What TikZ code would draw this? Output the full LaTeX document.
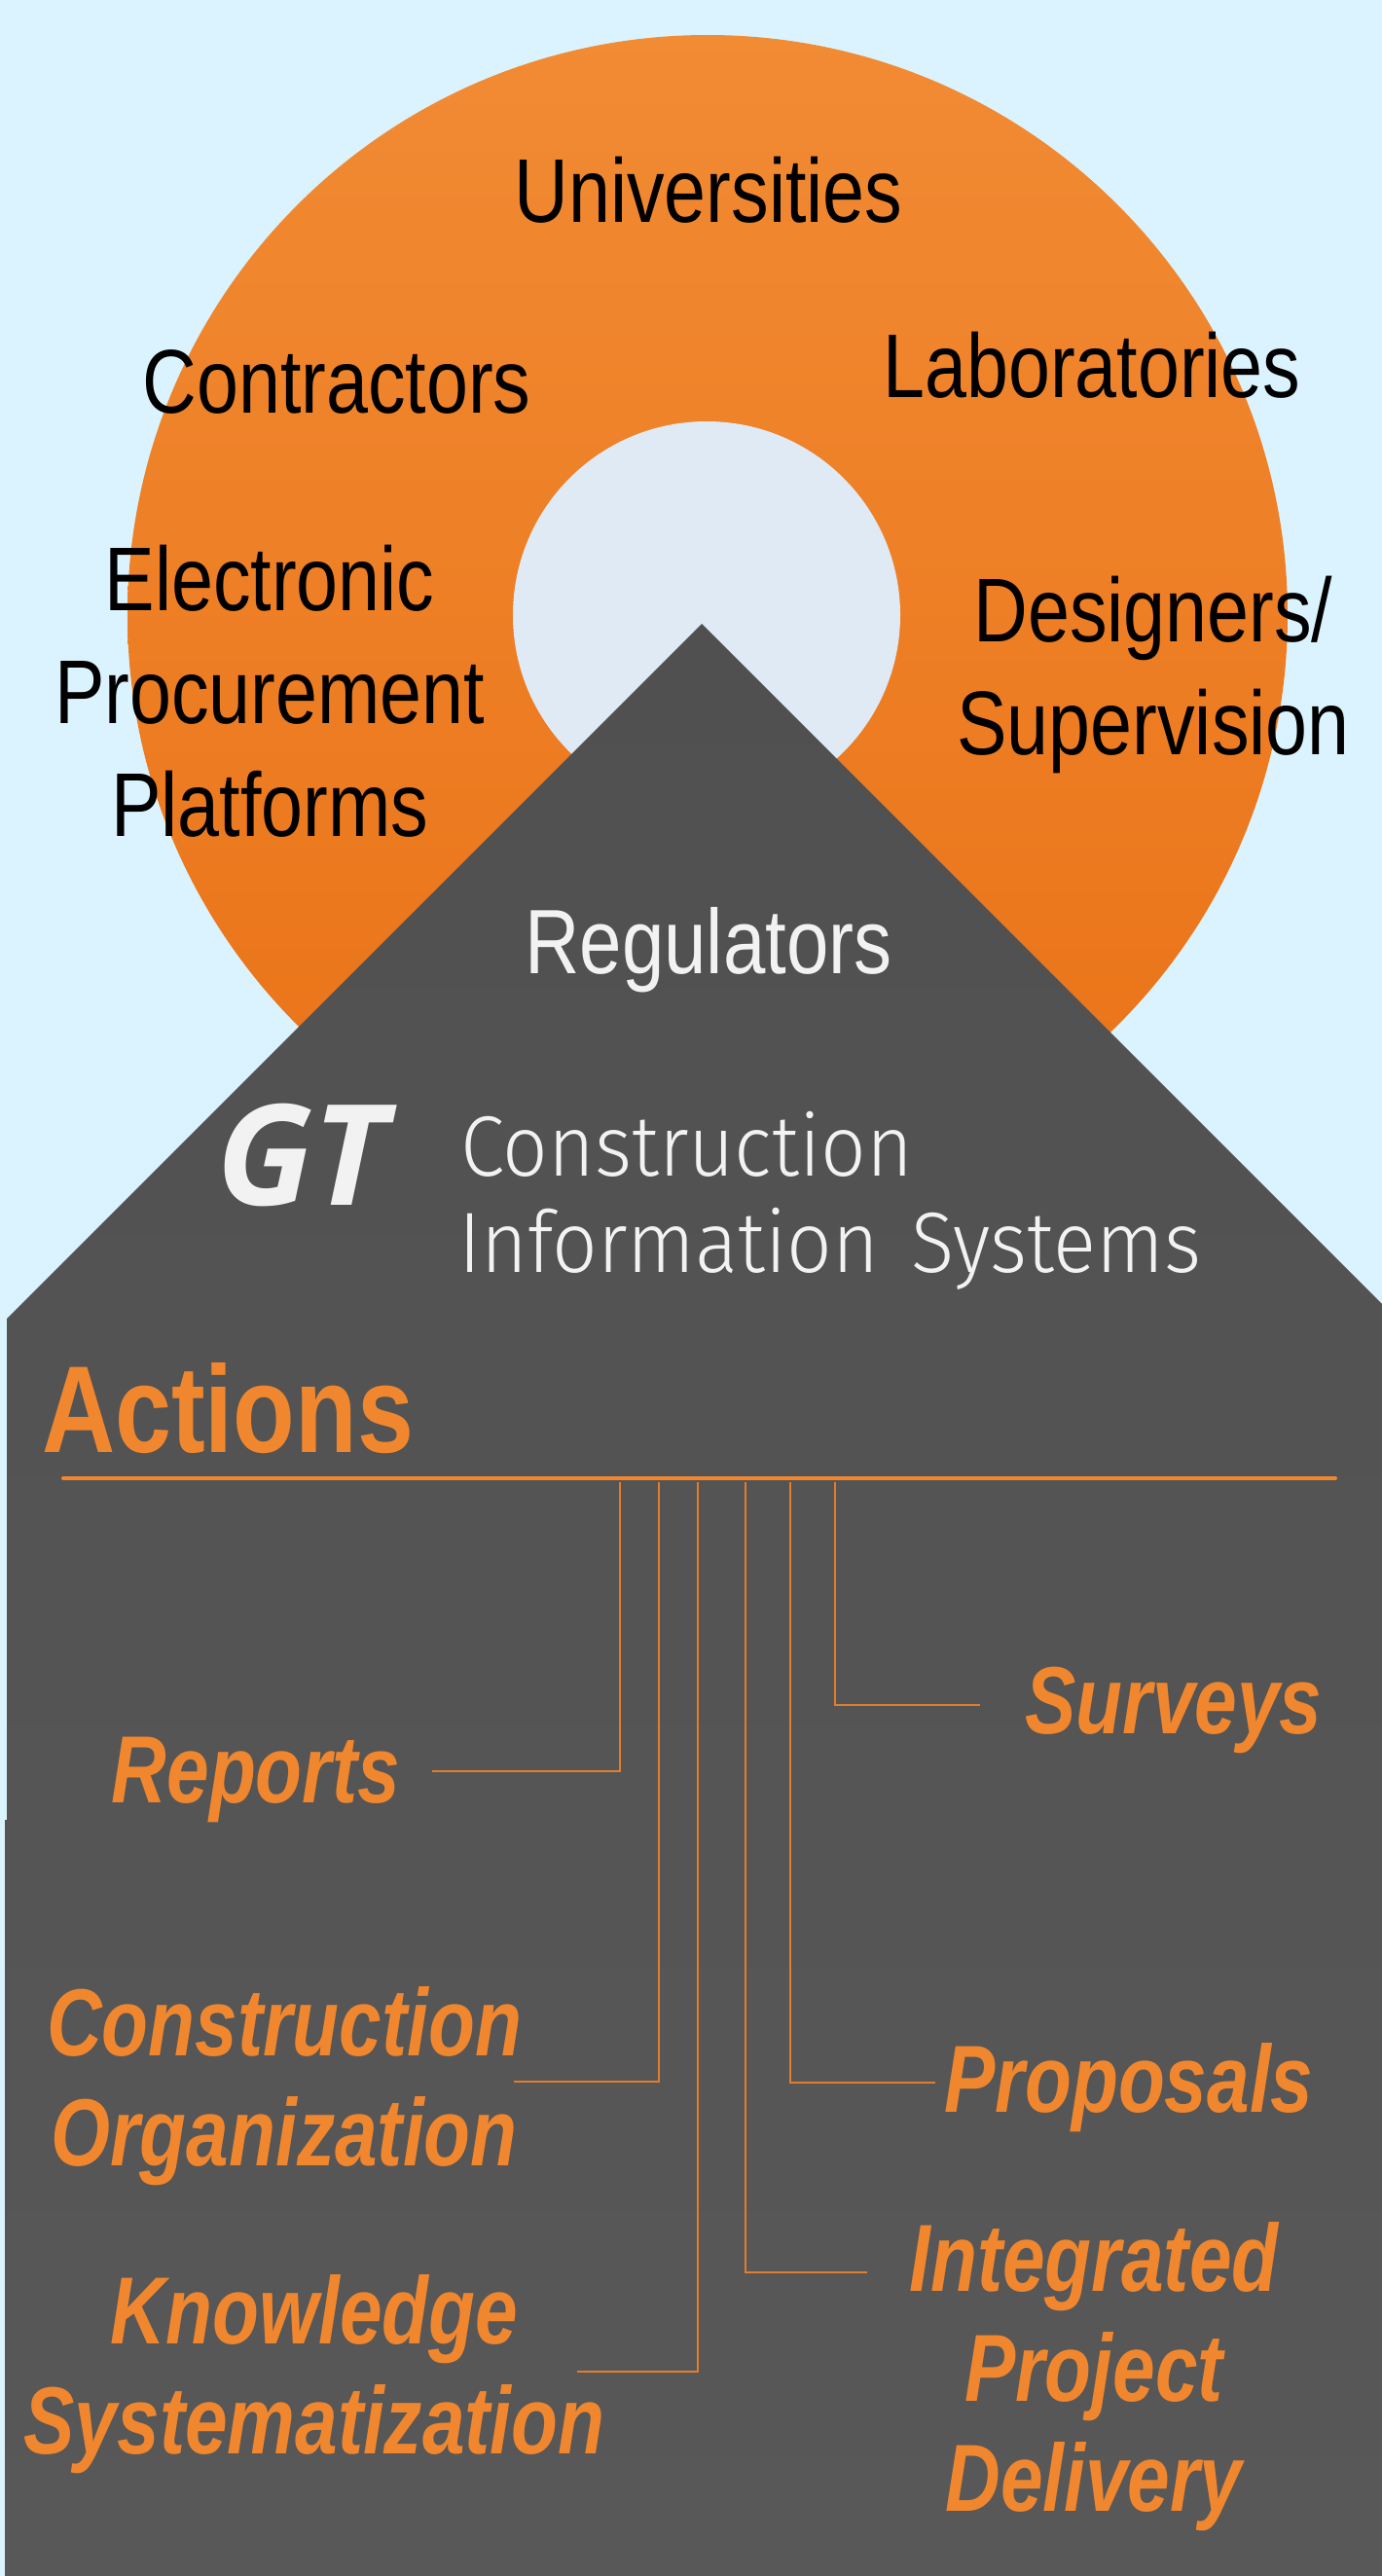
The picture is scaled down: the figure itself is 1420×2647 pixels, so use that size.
\documentclass[tikz,border=0pt]{standalone}
\usepackage{fontspec}
\setmainfont{Liberation Sans}
\newfontfamily\narrowreg[FakeStretch=0.83]{Liberation Sans}
\newfontfamily\narrowbold[FakeStretch=0.80]{Liberation Sans}
\newfontfamily\narrowboldA[FakeStretch=0.82]{Liberation Sans}
\newfontfamily\thinsans[FakeStretch=0.93]{Fira Sans Light}
\newfontfamily\logofont{Open Sans}
\definecolor{bgblue}{RGB}{218,243,254}
\definecolor{orTop}{RGB}{241,139,52}
\definecolor{orBot}{RGB}{234,114,22}
\definecolor{innerc}{RGB}{223,234,244}
\definecolor{houseTop}{RGB}{80,80,80}
\definecolor{houseBot}{RGB}{88,88,88}
\definecolor{orangeT}{RGB}{240,135,47}
\definecolor{orangeL}{RGB}{225,125,45}
\definecolor{whiteT}{RGB}{242,242,242}
\begin{document}
\begin{tikzpicture}[x=1pt,y=-1pt,
  blk/.style={font=\narrowreg\fontsize{93}{116}\selectfont, text=black, align=center, inner sep=0pt, anchor=base},
  act/.style={font=\narrowbold\bfseries\itshape\fontsize{98}{113}\selectfont, text=orangeT, align=center, inner sep=0pt, anchor=base},
  conn/.style={draw=orangeL, line width=1.5pt},
  bar/.style={draw=orangeT, line width=4pt, line cap=round},
  thintext/.style={font=\thinsans\fontsize{88}{99}\selectfont, text=whiteT, inner sep=0pt, anchor=base west}
]
\useasboundingbox (0,0) rectangle (1420,2647);
\fill[bgblue] (0,0) rectangle (1420,2647);
% ring
\shade[top color=orTop, bottom color=orBot] (727,632) circle (596pt);
\fill[innerc] (726,632) circle (199pt);
% house
\shade[top color=houseTop, bottom color=houseBot]
  (721,641) -- (1422,1342) -- (1422,2648) -- (5,2648) -- (5,1870) -- (7,1870) -- (7,1355) -- cycle;
% ring labels (multi-line nodes: base = last line's baseline)
\node[blk] (univ) at (728,228) {Universities};
\node[blk] (contr) at (346,424) {Contractors};
\node[blk] (labs) at (1122,408) {Laboratories};
\node[blk] (epp) at (277,859) {Electronic\\Procurement\\Platforms};
\node[blk] (design) at (1185,775) {Designers/\\Supervision};
\node[blk, text=whiteT, font=\narrowreg\fontsize{94}{116}\selectfont] (reg) at (728,1000) {Regulators};
% logo
\node[font=\logofont\bfseries\itshape\fontsize{144}{150}\selectfont, text=whiteT, inner sep=0pt, anchor=base west] (gt) at (222,1238) {GT};
\node[thintext] (cis1) at (473,1208) {Construction};
\node[thintext] (cis2) at (471,1307) {Information\hspace{0.12em} Systems};
% actions
\node[font=\narrowboldA\bfseries\fontsize{127}{140}\selectfont, text=orangeT, inner sep=0pt, anchor=base west] (actions) at (43,1492) {Actions};
\coordinate (barL) at (65,1519);
\coordinate (barR) at (1372,1519);
\draw[bar] (barL) -- (barR);
% action labels
\node[act] (surveys) at (1206,1781) {Surveys};
\node[act] (reports) at (263,1852) {Reports};
\node[act] (corg) at (292,2225) {Construction\\Organization};
\node[act] (props) at (1160,2170) {Proposals};
\node[act] (know) at (323,2521) {Knowledge\\Systematization};
\node[act] (ipd) at (1124,2580) {Integrated\\Project\\Delivery};
% connector tops
\coordinate (t1) at (637,1523);
\coordinate (t2) at (677,1523);
\coordinate (t3) at (717,1523);
\coordinate (t4) at (766,1523);
\coordinate (t5) at (812,1523);
\coordinate (t6) at (858,1523);
% connector ends
\coordinate (e1) at (444,1820);
\coordinate (e2) at (528,2139);
\coordinate (e3) at (593,2437);
\coordinate (e4) at (891,2335);
\coordinate (e5) at (961,2140);
\coordinate (e6) at (1007,1752);
\draw[conn] (t1) |- (e1);
\draw[conn] (t2) |- (e2);
\draw[conn] (t3) |- (e3);
\draw[conn] (t4) |- (e4);
\draw[conn] (t5) |- (e5);
\draw[conn] (t6) |- (e6);
\end{tikzpicture}
\end{document}
